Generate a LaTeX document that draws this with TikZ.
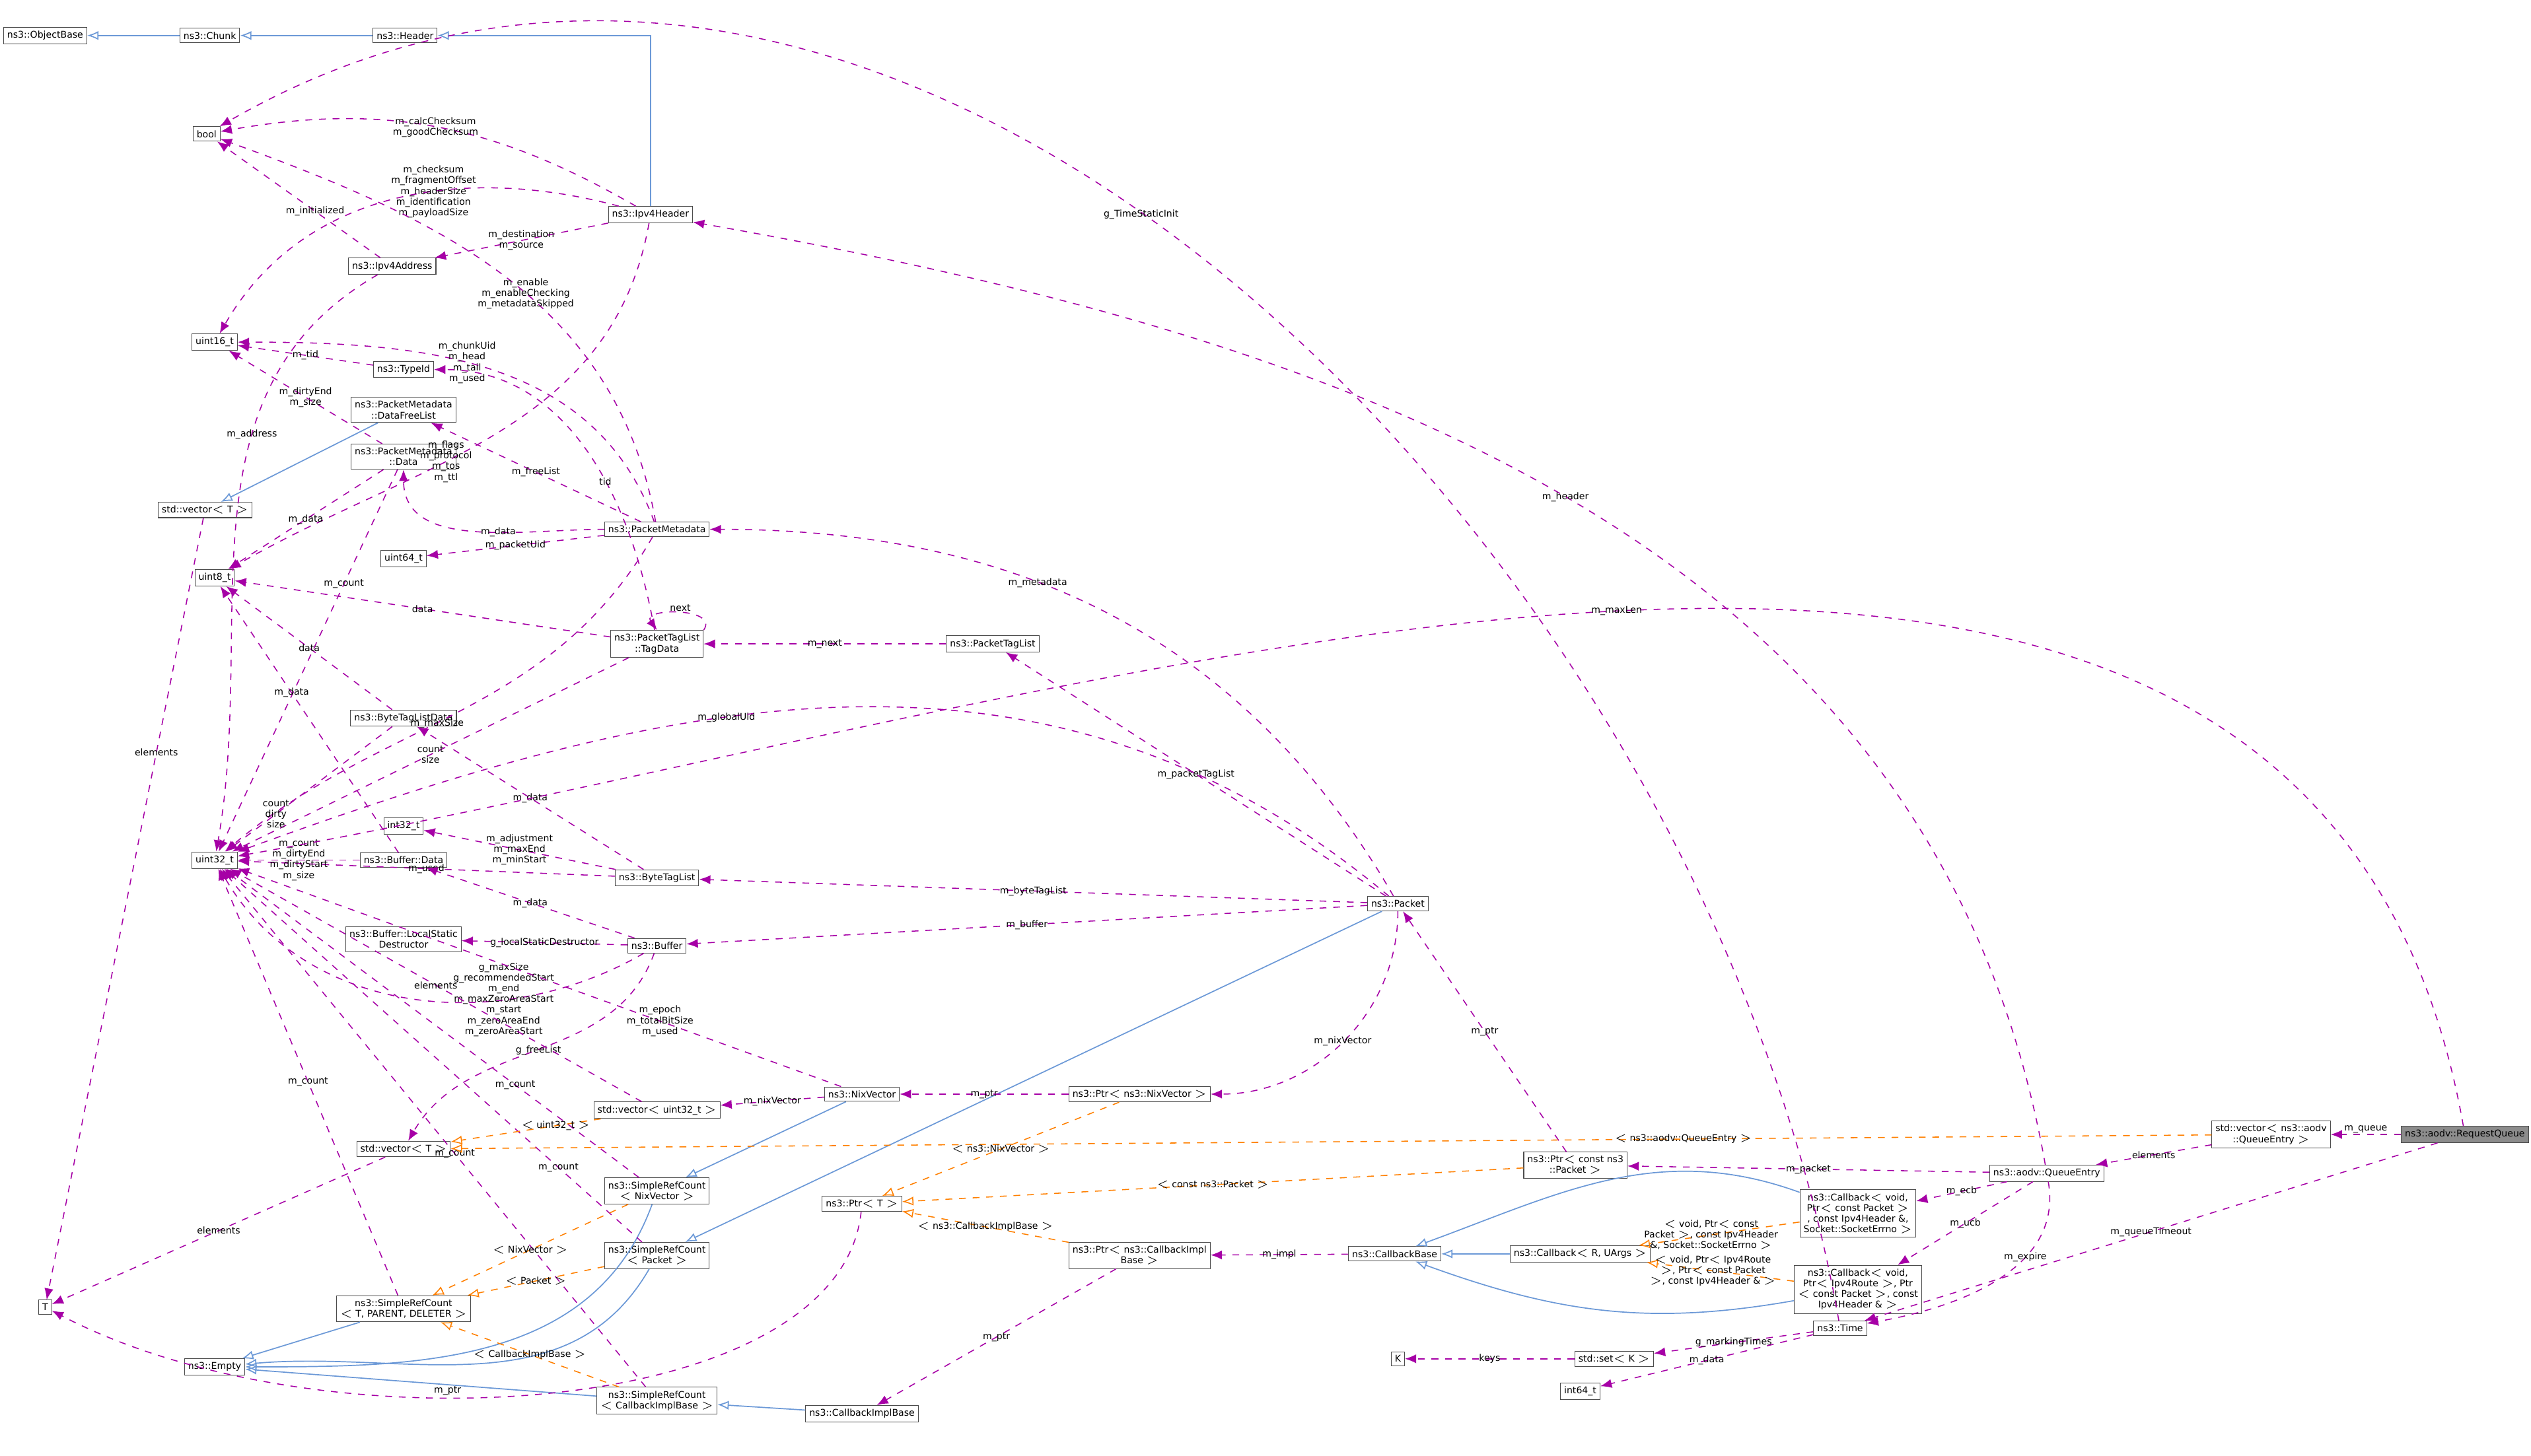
\documentclass[tikz,border=0pt]{standalone}
\usepackage{fontspec}
\setmainfont{DejaVu Sans}
\usetikzlibrary{arrows.meta}
\begin{document}
\begin{tikzpicture}[x=0.025cm,y=-0.025cm,
    every node/.style={font={\fontsize{4.1}{4.7}\selectfont}},
    cls/.style={draw=black!70,line width=0.3pt,fill=white,inner sep=1.6pt,align=center},
    rq/.style={cls,fill=black!45},
    inherit/.style={-{Latex[open,length=5pt,width=4pt]},draw=cyan!50!blue!60,line width=0.5pt},
    usage/.style={-{Latex[length=5pt,width=4pt]},draw=violet!70!magenta,dashed,line width=0.45pt},
    templ/.style={-{Latex[open,length=5pt,width=4pt]},draw=orange,dashed,line width=0.45pt},
    lbl/.style={inner sep=0.5pt,align=center},
    ]
    \useasboundingbox (0,0) rectangle (1568,902);

    % Classes
    \node[cls] (objbase) at (28,22) {ns3::ObjectBase};
    \node[cls] (chunk) at (130,22) {ns3::Chunk};
    \node[cls] (header) at (251,22) {ns3::Header};
    \node[cls] (bool) at (128,83) {bool};
    \node[cls] (ipv4hdr) at (403,133) {ns3::Ipv4Header};
    \node[cls] (ipv4addr) at (243,165) {ns3::Ipv4Address};
    \node[cls] (u16) at (133,212) {uint16\_t};
    \node[cls] (typeid) at (250,229) {ns3::TypeId};
    \node[cls] (freelist) at (250,254) {ns3::PacketMetadata\\::DataFreeList};
    \node[cls] (pmdata) at (250,283) {ns3::PacketMetadata\\::Data};
    \node[cls] (vecT) at (127,316) {std::vector$<$ T $>$};
    \node[cls] (u64) at (250,346) {uint64\_t};
    \node[cls] (pmeta) at (407,328) {ns3::PacketMetadata};
    \node[cls] (u8) at (133,358) {uint8\_t};
    \node[cls] (tagdata) at (407,399) {ns3::PacketTagList\\::TagData};
    \node[cls] (ptaglist) at (615,399) {ns3::PacketTagList};
    \node[cls] (btldata) at (250,445) {ns3::ByteTagListData};
    \node[cls] (i32) at (250,512) {int32\_t};
    \node[cls] (u32) at (133,533) {uint32\_t};
    \node[cls] (bufdata) at (250,533) {ns3::Buffer::Data};
    \node[cls] (btaglist) at (407,544) {ns3::ByteTagList};
    \node[cls] (packet) at (866,560) {ns3::Packet};
    \node[cls] (lsd) at (250,582) {ns3::Buffer::LocalStatic\\Destructor};
    \node[cls] (buffer) at (407,586) {ns3::Buffer};
    \node[cls] (nix) at (534,678) {ns3::NixVector};
    \node[cls] (ptrnix) at (706,678) {ns3::Ptr$<$ ns3::NixVector $>$};
    \node[cls] (vecu32) at (407,688) {std::vector$<$ uint32\_t $>$};
    \node[cls] (vecT2) at (250,712) {std::vector$<$ T $>$};
    \node[cls] (ptrpkt) at (976,722) {ns3::Ptr$<$ const ns3\\::Packet $>$};
    \node[cls] (vecqe) at (1407,703) {std::vector$<$ ns3::aodv\\::QueueEntry $>$};
    \node[rq] (rqueue) at (1527,703) {ns3::aodv::RequestQueue};
    \node[cls] (qentry) at (1268,727) {ns3::aodv::QueueEntry};
    \node[cls] (srcnix) at (407,738) {ns3::SimpleRefCount\\$<$ NixVector $>$};
    \node[cls] (ptrT) at (534,746) {ns3::Ptr$<$ T $>$};
    \node[cls] (cbecb) at (1151,752) {ns3::Callback$<$ void,\\Ptr$<$ const Packet $>$\\, const Ipv4Header \&,\\Socket::SocketErrno $>$};
    \node[cls] (srcpkt) at (407,778) {ns3::SimpleRefCount\\$<$ Packet $>$};
    \node[cls] (ptrcbi) at (706,778) {ns3::Ptr$<$ ns3::CallbackImpl\\Base $>$};
    \node[cls] (cbbase) at (864,777) {ns3::CallbackBase};
    \node[cls] (cbR) at (979,777) {ns3::Callback$<$ R, UArgs $>$};
    \node[cls] (cbucb) at (1151,799) {ns3::Callback$<$ void,\\Ptr$<$ Ipv4Route $>$, Ptr\\$<$ const Packet $>$, const\\Ipv4Header \& $>$};
    \node[cls] (T) at (28,810) {T};
    \node[cls] (srcT) at (250,811) {ns3::SimpleRefCount\\$<$ T, PARENT, DELETER $>$};
    \node[cls] (time) at (1140,823) {ns3::Time};
    \node[cls] (empty) at (133,847) {ns3::Empty};
    \node[cls] (K) at (866,842) {K};
    \node[cls] (setK) at (1000,842) {std::set$<$ K $>$};
    \node[cls] (i64) at (979,862) {int64\_t};
    \node[cls] (srccbi) at (407,868) {ns3::SimpleRefCount\\$<$ CallbackImplBase $>$};
    \node[cls] (cbimpl) at (534,876) {ns3::CallbackImplBase};

    % Inheritance
    \draw[inherit] (chunk) -- (objbase);
    \draw[inherit] (header) -- (chunk);
    \draw[inherit] (ipv4hdr) |- (header);
    \draw[inherit] (freelist) -- (vecT);
    \draw[inherit] (nix) -- (srcnix);
    \draw[inherit] (packet) -- (srcpkt);
    \draw[inherit] (srcnix) to[out=-110,in=0] (empty);
    \draw[inherit] (srcpkt) to[out=-120,in=5] (empty);
    \draw[inherit] (srcT) -- (empty);
    \draw[inherit] (srccbi) -- (empty);
    \draw[inherit] (cbimpl) -- (srccbi);
    \draw[inherit] (cbecb) to[out=160,in=20] (cbbase);
    \draw[inherit] (cbR) -- (cbbase);
    \draw[inherit] (cbucb) to[out=-170,in=-20] (cbbase);

    % Usage
    \draw[usage] (ipv4hdr) to[out=150,in=10] node[lbl,pos=0.5]{m\_calcChecksum\\m\_goodChecksum} (bool);
    \draw[usage] (ipv4hdr) -- node[lbl]{m\_destination\\m\_source} (ipv4addr);
    \draw[usage] (ipv4hdr) to[out=165,in=60] node[lbl,pos=0.4]{m\_checksum\\m\_fragmentOffset\\m\_headerSize\\m\_identification\\m\_payloadSize} (u16);
    \draw[usage] (ipv4hdr) to[out=-100,in=30] node[lbl,pos=0.6]{m\_flags\\m\_protocol\\m\_tos\\m\_ttl} (u8);
    \draw[usage] (ipv4addr) -- node[lbl,pos=0.4]{m\_initialized} (bool);
    \draw[usage] (ipv4addr) to[out=-150,in=80] node[lbl,pos=0.35]{m\_address} (u32);
    \draw[usage] (pmeta) to[out=100,in=-20] node[lbl,pos=0.45]{m\_enable\\m\_enableChecking\\m\_metadataSkipped} (bool);
    \draw[usage] (pmeta) to[out=110,in=0] node[lbl,pos=0.55]{m\_chunkUid\\m\_head\\m\_tail\\m\_used} (u16);
    \draw[usage] (pmeta) -- node[lbl]{m\_freeList} (freelist);
    \draw[usage] (pmeta) to[out=180,in=-90] node[lbl,pos=0.4]{m\_data} (pmdata);
    \draw[usage] (pmeta) -- node[lbl]{m\_packetUid} (u64);
    \draw[usage] (pmeta) to[out=-120,in=40] node[lbl,pos=0.55]{m\_maxSize} (u32);
    \draw[usage] (typeid) -- node[lbl]{m\_tid} (u16);
    \draw[usage] (pmdata) -- node[lbl]{m\_dirtyEnd\\m\_size} (u16);
    \draw[usage] (pmdata) -- node[lbl]{m\_data} (u8);
    \draw[usage] (pmdata) -- node[lbl,pos=0.3]{m\_count} (u32);
    \draw[usage] (vecT) -- node[lbl,pos=0.3]{elements} (T);
    \draw[usage] (tagdata) to[out=100,in=0] node[lbl,pos=0.4]{tid} (typeid);
    \draw[usage] (tagdata) -- node[lbl]{data} (u8);
    \draw[usage] (tagdata) -- node[lbl]{count\\size} (u32);
    \draw[usage] (tagdata.north east) .. controls +(10,-14) and +(-10,-14) .. node[lbl,above]{next} (tagdata.north);
    \draw[usage] (ptaglist) -- node[lbl]{m\_next} (tagdata);
    \draw[usage] (btldata) -- node[lbl]{data} (u8);
    \draw[usage] (btldata) -- node[lbl,pos=0.7]{count\\dirty\\size} (u32);
    \draw[usage] (btaglist) -- node[lbl]{m\_data} (btldata);
    \draw[usage] (btaglist) -- node[lbl]{m\_adjustment\\m\_maxEnd\\m\_minStart} (i32);
    \draw[usage] (btaglist) -- node[lbl]{m\_used} (u32);
    \draw[usage] (bufdata) -- node[lbl,pos=0.6]{m\_data} (u8);
    \draw[usage] (bufdata) -- node[lbl]{m\_count\\m\_dirtyEnd\\m\_dirtyStart\\m\_size} (u32);
    \draw[usage] (buffer) -- node[lbl]{m\_data} (bufdata);
    \draw[usage] (buffer) -- node[lbl]{g\_localStaticDestructor} (lsd);
    \draw[usage] (buffer) to[out=-150,in=-60] node[lbl,pos=0.3]{g\_maxSize\\g\_recommendedStart\\m\_end\\m\_maxZeroAreaStart\\m\_start\\m\_zeroAreaEnd\\m\_zeroAreaStart} (u32);
    \draw[usage] (buffer) to[out=-110,in=60] node[lbl,pos=0.5]{g\_freeList} (vecT2);
    \draw[usage] (packet) to[out=120,in=0] node[lbl,pos=0.6]{m\_metadata} (pmeta);
    \draw[usage] (packet) -- node[lbl]{m\_packetTagList} (ptaglist);
    \draw[usage] (packet) to[out=140,in=20] node[lbl,pos=0.6]{m\_globalUid} (u32);
    \draw[usage] (packet) -- node[lbl]{m\_byteTagList} (btaglist);
    \draw[usage] (packet) -- node[lbl]{m\_buffer} (buffer);
    \draw[usage] (packet) to[out=-90,in=0] node[lbl,pos=0.5]{m\_nixVector} (ptrnix);
    \draw[usage] (nix) -- node[lbl,pos=0.3]{m\_epoch\\m\_totalBitSize\\m\_used} (u32);
    \draw[usage] (nix) -- node[lbl]{m\_nixVector} (vecu32);
    \draw[usage] (ptrnix) -- node[lbl]{m\_ptr} (nix);
    \draw[usage] (vecu32) -- node[lbl]{elements} (u32);
    \draw[usage] (vecT2) -- node[lbl]{elements} (T);
    \draw[usage] (srcnix) -- node[lbl,pos=0.3]{m\_count} (u32);
    \draw[usage] (srcpkt) -- node[lbl,pos=0.2]{m\_count} (u32);
    \draw[usage] (srcT) -- node[lbl]{m\_count} (u32);
    \draw[usage] (srccbi) -- node[lbl,pos=0.45]{m\_count} (u32);
    \draw[usage] (ptrT) .. controls (520,880) and (200,900) .. node[lbl,pos=0.6,above]{m\_ptr} (T);
    \draw[usage] (ptrcbi) -- node[lbl]{m\_ptr} (cbimpl);
    \draw[usage] (cbbase) -- node[lbl]{m\_impl} (ptrcbi);
    \draw[usage] (ptrpkt) -- node[lbl]{m\_ptr} (packet);
    \draw[usage] (qentry) -- node[lbl]{m\_packet} (ptrpkt);
    \draw[usage] (qentry) to[out=100,in=-10] node[lbl,pos=0.5]{m\_header} (ipv4hdr);
    \draw[usage] (qentry) -- node[lbl]{m\_ecb} (cbecb);
    \draw[usage] (qentry) -- node[lbl]{m\_ucb} (cbucb);
    \draw[usage] (qentry) to[out=-80,in=10] node[lbl,pos=0.35]{m\_expire} (time);
    \draw[usage] (vecqe) -- node[lbl]{elements} (qentry);
    \draw[usage] (rqueue) -- node[lbl,above]{m\_queue} (vecqe);
    \draw[usage] (rqueue) to[out=100,in=10] node[lbl,pos=0.5]{m\_maxLen} (u32);
    \draw[usage] (rqueue) -- node[lbl]{m\_queueTimeout} (time);
    \draw[usage] (time) to[out=100,in=30] node[lbl,pos=0.55]{g\_TimeStaticInit} (bool);
    \draw[usage] (time) -- node[lbl]{g\_markingTimes} (setK);
    \draw[usage] (time) -- node[lbl]{m\_data} (i64);
    \draw[usage] (setK) -- node[lbl]{keys} (K);

    % Template instances
    \draw[templ] (vecu32) -- node[lbl,pos=0.3]{$<$ uint32\_t $>$} (vecT2);
    \draw[templ] (vecqe) -- node[lbl,pos=0.3]{$<$ ns3::aodv::QueueEntry $>$} (vecT2);
    \draw[templ] (ptrnix) -- node[lbl]{$<$ ns3::NixVector $>$} (ptrT);
    \draw[templ] (ptrpkt) -- node[lbl]{$<$ const ns3::Packet $>$} (ptrT);
    \draw[templ] (ptrcbi) -- node[lbl]{$<$ ns3::CallbackImplBase $>$} (ptrT);
    \draw[templ] (srcnix) -- node[lbl]{$<$ NixVector $>$} (srcT);
    \draw[templ] (srcpkt) -- node[lbl]{$<$ Packet $>$} (srcT);
    \draw[templ] (srccbi) -- node[lbl]{$<$ CallbackImplBase $>$} (srcT);
    \draw[templ] (cbecb) -- node[lbl,pos=0.55]{$<$ void, Ptr$<$ const\\Packet $>$, const Ipv4Header\\\&, Socket::SocketErrno $>$} (cbR);
    \draw[templ] (cbucb) -- node[lbl,pos=0.55]{$<$ void, Ptr$<$ Ipv4Route\\$>$, Ptr$<$ const Packet\\$>$, const Ipv4Header \& $>$} (cbR);
\end{tikzpicture}
\end{document}
